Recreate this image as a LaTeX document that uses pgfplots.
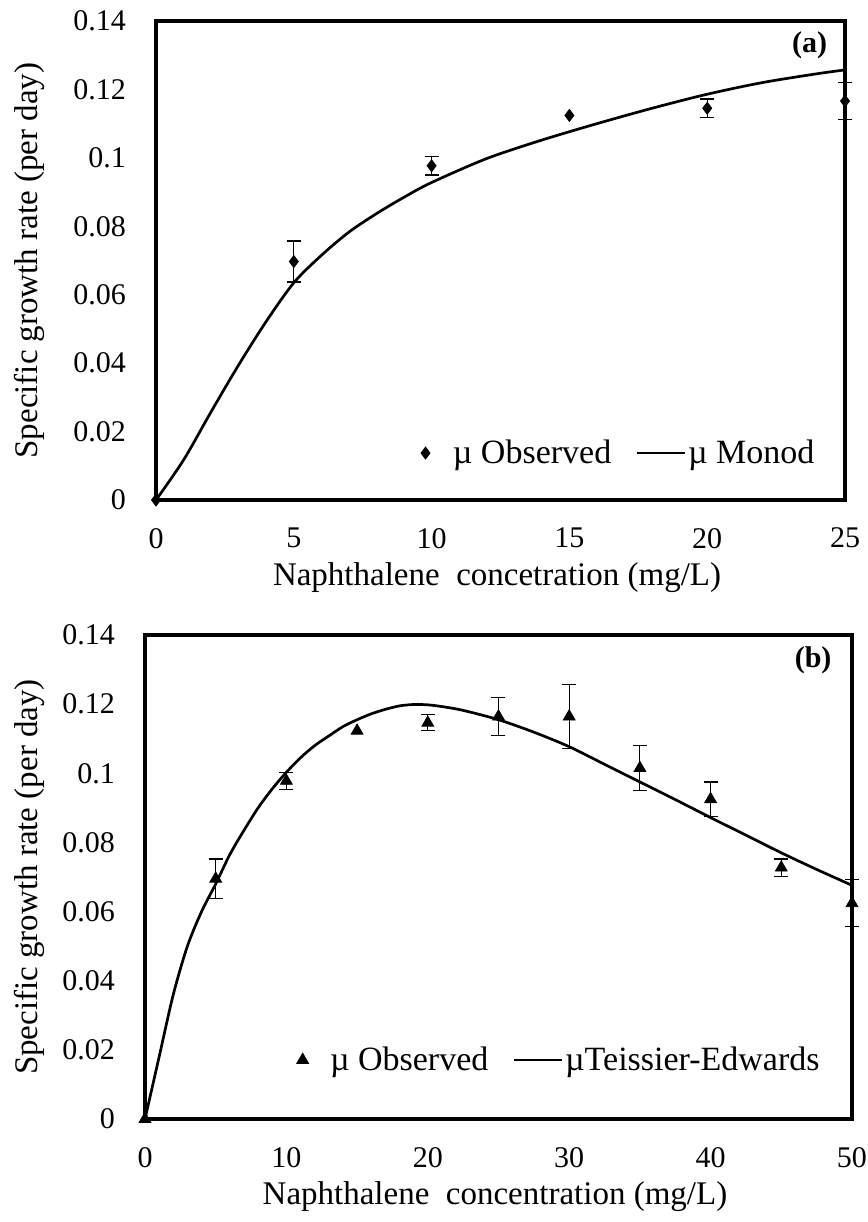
\documentclass[border=0pt]{standalone}
\usepackage{pgfplots}
\pgfplotsset{compat=1.18}
\usepackage{fontspec}
\setmainfont{Liberation Serif}
\pgfplotsset{
  myaxis/.style={
    scale only axis, anchor=south west, clip=false,
    major tick length=0pt,
    axis line style={line width=1.6pt},
    tick label style={font=\fontsize{15}{18}\selectfont},
    /pgf/number format/assume math mode=true,
    yticklabel style={/pgf/number format/fixed, /pgf/number format/precision=2, xshift=-11.5pt},
    xticklabel style={yshift=-10.5pt},
    scaled y ticks=false,
    ymin=0, ymax=0.14,
    ytick={0,0.02,0.04,0.06,0.08,0.1,0.12,0.14},
    label style={font=\fontsize{16.5}{19}\selectfont},
    legend style={draw=none, fill=none, inner sep=0pt, legend columns=2,
      font=\fontsize{17}{20}\selectfont, nodes={inner xsep=1pt},
      /tikz/every even column/.append style={column sep=11pt}},
  },
  obsleg/.style={legend image code/.code={\draw[##1] plot coordinates {(8pt,0pt)}; \path (0pt,0pt) (20.5pt,0pt);}},
  lineleg/.style={legend image code/.code={\draw[##1] (0pt,0pt) -- (24pt,0pt);}},
  errs/.style={error bars/.cd, y dir=both, y explicit,
    error bar style={line width=0.6pt, black},
    error mark options={rotate=90, mark size=3.5pt, line width=0.6pt, black}},
}
\begin{document}
\begin{tikzpicture}
\useasboundingbox (0pt,0pt) rectangle (434pt,-611pt);
% ---------------- (a) ----------------
\begin{axis}[myaxis,
  at={(78pt,-250pt)}, width=344.5pt, height=239.5pt,
  xmin=0, xmax=25, xtick={0,5,10,15,20,25},
  xlabel={Naphthalene\ \ concetration (mg/L)},
  ylabel={Specific growth rate (per day)},
  xlabel style={at={(axis description cs:0.495,-0.163)}, anchor=center},
  ylabel style={at={(axis description cs:-0.183,0.5)}, anchor=center},
  legend style={at={(0.959,0.098)}, anchor=east},
]
\addplot[only marks, mark=diamond*, mark size=3pt, black, obsleg, errs]
  coordinates {(5,0.0697) +- (0,0.006) (10,0.0977) +- (0,0.0027)
               (20,0.1145) +- (0,0.0027) (25,0.1166) +- (0,0.0055)};
\addlegendentry{µ Observed}
\addplot[black, line width=1.35pt, smooth, lineleg]
  coordinates {(0,0) (1,0.0117) (2,0.0258) (3,0.0395) (4,0.0522) (5,0.0635)
               (6,0.0715) (7,0.0783) (8,0.0837) (9,0.0885) (10,0.0928)
               (12,0.0998) (14,0.1052) (16,0.1100) (18,0.1145) (20,0.1186)
               (22,0.1220) (24,0.1246) (25,0.1257)};
\addlegendentry{µ Monod}
\addplot[only marks, mark=diamond*, mark size=3pt, black, forget plot]
  coordinates {(0,0) (15,0.1124)};
\node[font=\bfseries\fontsize{15}{18}\selectfont] at (axis description cs:0.9485,0.95) {(a)};
\end{axis}
% ---------------- (b) ----------------
\begin{axis}[myaxis,
  at={(72.5pt,-559.5pt)}, width=353.5pt, height=242pt,
  xmin=0, xmax=50, xtick={0,10,20,30,40,50},
  xlabel={Naphthalene\ \ concentration (mg/L)},
  ylabel={Specific growth rate (per day)},
  xlabel style={at={(axis description cs:0.495,-0.161)}, anchor=center},
  ylabel style={at={(axis description cs:-0.163,0.5)}, anchor=center},
  legend style={at={(0.9576,0.122)}, anchor=east},
]
\addplot[only marks, mark=triangle*, mark size=3.4pt, black, obsleg, errs]
  coordinates {(5,0.0695) +- (0,0.0057) (10,0.0978) +- (0,0.0025)
               (20,0.1146) +- (0,0.0023) (25,0.1164) +- (0,0.0055)
               (30,0.1164) +- (0,0.0093) (35,0.1015) +- (0,0.0065)
               (40,0.0925) +- (0,0.005) (45,0.0727) +- (0,0.0025)
               (50,0.0624) +- (0,0.0068)};
\addlegendentry{µ Observed}
\addplot[black, line width=1.35pt, smooth, lineleg]
  coordinates {(0,0) (1,0.018) (2,0.036) (3,0.050) (4,0.060) (5,0.068)
               (6,0.0765) (7,0.0835) (8,0.090) (9,0.0955) (10,0.1003)
               (11,0.1045) (12,0.108) (13,0.1108) (14,0.1135) (15,0.1155)
               (16,0.1172) (17,0.1185) (18,0.1195) (19,0.1199) (20,0.1198)
               (21,0.1193) (22.5,0.1182) (25,0.1155) (27.5,0.1119) (30,0.1077)
               (32.5,0.1026) (35,0.0975) (37.5,0.0924) (40,0.0872) (42.5,0.0821)
               (45,0.0770) (47.5,0.0722) (50,0.0676)};
\addlegendentry{µTeissier-Edwards}
\addplot[only marks, mark=triangle*, mark size=3.4pt, black, forget plot]
  coordinates {(0,0) (15,0.1123)};
\node[font=\bfseries\fontsize{15}{18}\selectfont] at (axis description cs:0.945,0.948) {(b)};
\end{axis}
\end{tikzpicture}
\end{document}
